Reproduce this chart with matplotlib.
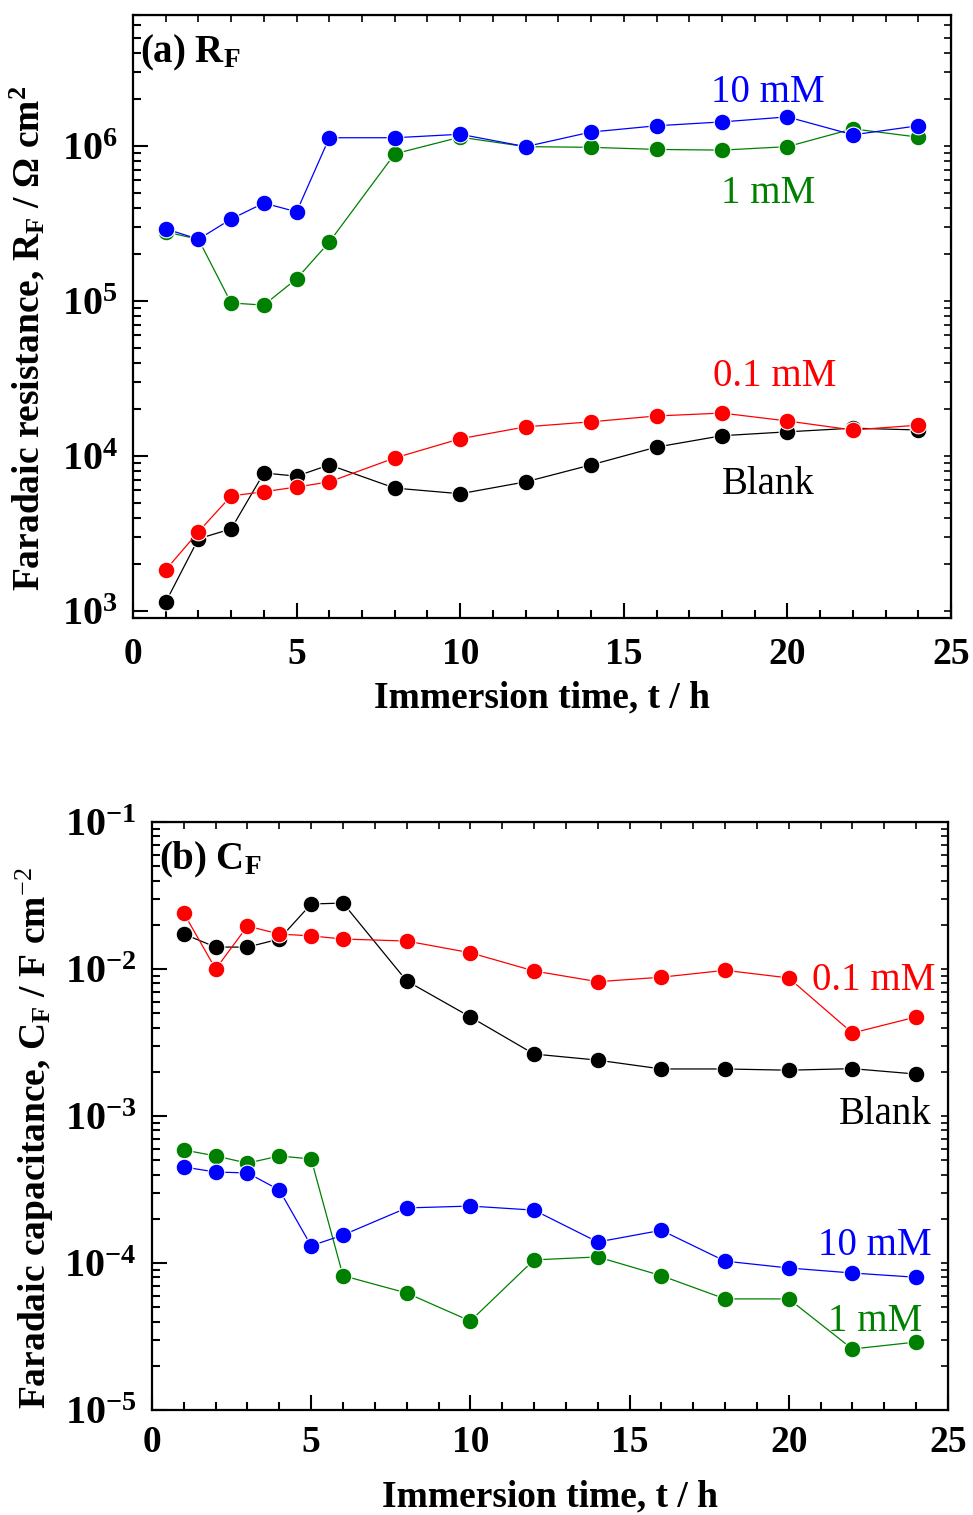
import matplotlib
matplotlib.use("Agg")
import matplotlib.pyplot as plt
from matplotlib.ticker import LogLocator, MultipleLocator, FuncFormatter, NullFormatter
import numpy as np

plt.rcParams['font.family'] = ['Liberation Serif', 'DejaVu Serif']
plt.rcParams['mathtext.fontset'] = 'custom'
plt.rcParams['mathtext.rm'] = 'Liberation Serif'
plt.rcParams['mathtext.bf'] = 'Liberation Serif:bold'
plt.rcParams['mathtext.it'] = 'Liberation Serif:italic'

# immersion times (h)
time_h = [1, 2, 3, 4, 5, 6, 8, 10, 12, 14, 16, 18, 20, 22, 24]

# (a) faradaic resistance, ohm cm2
rf_blank = [1.14e3, 2.92e3, 3.38e3, 7.76e3, 7.4e3, 8.75e3, 6.2e3, 5.7e3,
            6.8e3, 8.75e3, 1.14e4, 1.35e4, 1.43e4, 1.51e4, 1.47e4]
rf_01mM = [1.84e3, 3.24e3, 5.52e3, 5.87e3, 6.3e3, 6.8e3, 9.7e3, 1.29e4,
           1.54e4, 1.66e4, 1.81e4, 1.89e4, 1.68e4, 1.47e4, 1.58e4]
rf_1mM = [2.79e5, 2.5e5, 9.7e4, 9.4e4, 1.39e5, 2.4e5, 8.9e5, 1.14e6,
          0.99e6, 0.98e6, 0.95e6, 0.94e6, 0.99e6, 1.29e6, 1.14e6]
rf_10mM = [2.92e5, 2.5e5, 3.38e5, 4.28e5, 3.76e5, 1.13e6, 1.13e6, 1.19e6,
           0.99e6, 1.23e6, 1.35e6, 1.43e6, 1.54e6, 1.18e6, 1.35e6]

# (b) faradaic capacitance, F cm-2
cf_blank = [1.73e-2, 1.41e-2, 1.41e-2, 1.6e-2, 2.77e-2, 2.81e-2, 8.3e-3, 4.72e-3,
            2.64e-3, 2.4e-3, 2.09e-3, 2.09e-3, 2.05e-3, 2.1e-3, 1.93e-3]
cf_01mM = [2.4e-2, 1.0e-2, 1.96e-2, 1.73e-2, 1.68e-2, 1.6e-2, 1.55e-2, 1.29e-2,
           9.7e-3, 8.2e-3, 8.8e-3, 9.8e-3, 8.7e-3, 3.67e-3, 4.72e-3]
cf_1mM = [5.88e-4, 5.35e-4, 4.78e-4, 5.35e-4, 5.1e-4, 8.2e-5, 6.25e-5, 4.03e-5,
          1.05e-4, 1.1e-4, 8.2e-5, 5.7e-5, 5.7e-5, 2.6e-5, 2.9e-5]
cf_10mM = [4.5e-4, 4.16e-4, 4.1e-4, 3.14e-4, 1.31e-4, 1.55e-4, 2.37e-4, 2.44e-4,
           2.29e-4, 1.39e-4, 1.67e-4, 1.03e-4, 9.25e-5, 8.55e-5, 8.0e-5]

colors = {'Blank': 'black', '0.1 mM': '#ff0000', '1 mM': '#008000', '10 mM': '#0000ff'}


def pow_fmt(v, pos):
    e = int(round(np.log10(v)))
    return r'$\mathbf{10^{%d}}$' % e


def style_axis(ax, ylim, xpad):
    ax.set_yscale('log')
    ax.set_xlim(0, 25)
    ax.set_ylim(*ylim)
    ax.xaxis.set_major_locator(MultipleLocator(5))
    ax.xaxis.set_minor_locator(MultipleLocator(1))
    ax.yaxis.set_major_locator(LogLocator(base=10))
    ax.yaxis.set_minor_locator(LogLocator(base=10, subs=np.arange(2, 10)))
    ax.yaxis.set_major_formatter(FuncFormatter(pow_fmt))
    ax.yaxis.set_minor_formatter(NullFormatter())
    ax.tick_params(which='both', direction='in', width=1.5)
    ax.tick_params(which='major', length=11)
    ax.tick_params(which='minor', length=6)
    ax.tick_params(axis='x', labelsize=27, pad=xpad)
    ax.tick_params(axis='y', labelsize=29, pad=11)
    for lab in ax.get_xticklabels():
        lab.set_fontweight('bold')
    for s in ax.spines.values():
        s.set_linewidth(1.6)
    # small ticks on top and right sides
    top = ax.secondary_xaxis('top')
    top.xaxis.set_major_locator(MultipleLocator(1))
    top.tick_params(direction='in', length=5, width=1.2, labeltop=False)
    right = ax.secondary_yaxis('right')
    right.yaxis.set_major_locator(LogLocator(base=10))
    right.yaxis.set_minor_locator(LogLocator(base=10, subs=np.arange(2, 10)))
    right.tick_params(which='both', direction='in', length=5, width=1.2, labelright=False)
    right.yaxis.set_minor_formatter(NullFormatter())


def draw(ax, series):
    for name, vals in series:
        ax.plot(time_h, vals, '-o', color=colors[name], lw=0.9, ms=12,
                mec='white', mew=0.8)


fig = plt.figure(figsize=(9.73, 15.15), dpi=100)
ax1 = fig.add_axes([0.1367, 0.5921, 0.8407, 0.398])
ax2 = fig.add_axes([0.1562, 0.0693, 0.818, 0.3881])

draw(ax1, [('Blank', rf_blank), ('0.1 mM', rf_01mM), ('1 mM', rf_1mM), ('10 mM', rf_10mM)])
style_axis(ax1, (9.0e2, 7.0e6), xpad=14)
ax1.set_xlabel('Immersion time, t / h', fontsize=27, fontweight='bold', labelpad=6)
ax1.set_ylabel(r'Faradaic resistance, R$_\mathbf{F}$ / Ω cm$^\mathbf{2}$',
               fontsize=27, fontweight='bold')
ax1.yaxis.set_label_coords(-0.105, 0.464)
ax1.text(0.009, 0.97, r'$\mathbf{(a)\ R_F}$', transform=ax1.transAxes,
         fontsize=28, va='top', ha='left')
ax1.text(19.4, 2.2e6, '10 mM', color=colors['10 mM'], fontsize=28, ha='center', va='center')
ax1.text(19.4, 4.9e5, '1 mM', color=colors['1 mM'], fontsize=28, ha='center', va='center')
ax1.text(19.6, 3.25e4, '0.1 mM', color=colors['0.1 mM'], fontsize=28, ha='center', va='center')
ax1.text(19.4, 6.5e3, 'Blank', color=colors['Blank'], fontsize=28, ha='center', va='center')

draw(ax2, [('Blank', cf_blank), ('0.1 mM', cf_01mM), ('1 mM', cf_1mM), ('10 mM', cf_10mM)])
style_axis(ax2, (1e-5, 1e-1), xpad=11)
ax2.set_xlabel('Immersion time, t / h', fontsize=27, fontweight='bold', labelpad=14)
ax2.set_ylabel(r'Faradaic capacitance, C$_\mathbf{F}$ / F cm$^{-2}$',
               fontsize=27, fontweight='bold')
ax2.yaxis.set_label_coords(-0.121, 0.463)
ax2.text(0.009, 0.97, r'$\mathbf{(b)\ C_F}$', transform=ax2.transAxes,
         fontsize=28, va='top', ha='left')
ax2.text(24.6, 8.4e-3, '0.1 mM', color=colors['0.1 mM'], fontsize=28, ha='right', va='center')
ax2.text(24.5, 1.03e-3, 'Blank', color=colors['Blank'], fontsize=28, ha='right', va='center')
ax2.text(24.5, 1.32e-4, '10 mM', color=colors['10 mM'], fontsize=28, ha='right', va='center')
ax2.text(24.2, 4.0e-5, '1 mM', color=colors['1 mM'], fontsize=28, ha='right', va='center')

fig.savefig('out.png', dpi=100)
